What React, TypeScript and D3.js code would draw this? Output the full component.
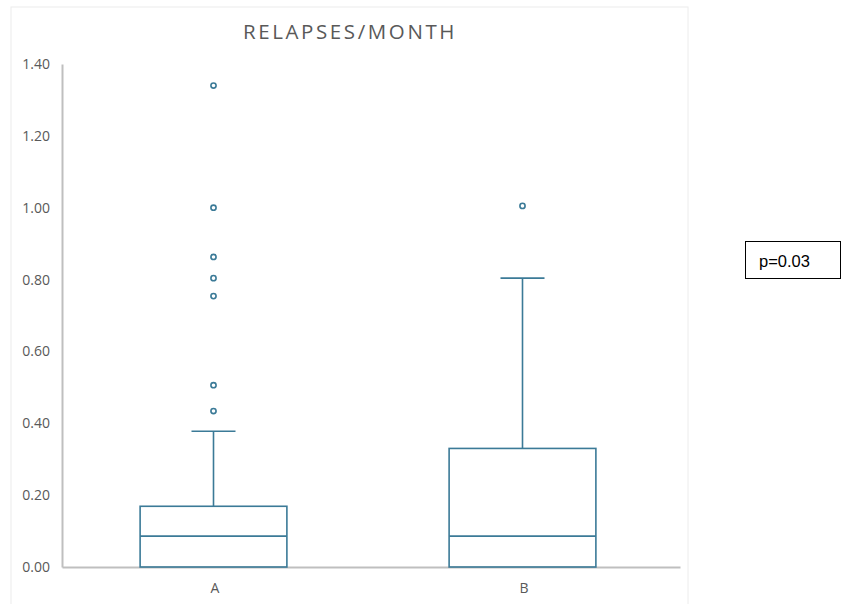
import React, { useEffect, useRef } from 'react'
import * as d3 from 'd3'

// box statistics
const categories = ['A', 'B']
const q1 = [0, 0]
const medians = [0.086, 0.086]
const q3 = [0.169, 0.33]
const whiskerLow = [0, 0]
const whiskerHigh = [0.378, 0.804]
const outliersA = [1.34, 1.0, 0.863, 0.804, 0.754, 0.506, 0.434]
const outliersB = [1.005]
const yTicks = [0, 0.2, 0.4, 0.6, 0.8, 1.0, 1.2, 1.4]

const W = 843
const H = 604
const margin = { top: 64, right: 165, bottom: 37, left: 62 }
const color = '#3b7a97'
const axisGrey = '#bfbfbf'
const textGrey = '#595959'

const App = () => {
  const ref = useRef<SVGSVGElement>(null)

  useEffect(() => {
    const svg = d3.select(ref.current)
    svg.selectAll('*').remove()

    const x = d3.scaleBand()
      .domain(categories)
      .range([margin.left, W - margin.right + 2])
      .padding(0)

    const y = d3.scaleLinear()
      .domain([0, 1.4])
      .range([H - margin.bottom, margin.top])

    // chart frame
    svg.append('rect')
      .attr('x', 11).attr('y', 7)
      .attr('width', 677).attr('height', H)
      .attr('fill', 'white')
      .attr('stroke', '#ececec')

    svg.append('text')
      .attr('x', 350).attr('y', 39)
      .attr('text-anchor', 'middle')
      .attr('font-family', 'Open Sans, sans-serif')
      .attr('font-size', 20.5)
      .attr('letter-spacing', 2.6)
      .attr('fill', textGrey)
      .text('RELAPSES/MONTH')

    // y axis
    const yAxis = svg.append('g')
      .attr('transform', `translate(${margin.left},0)`)
      .call(d3.axisLeft(y).tickValues(yTicks).tickSize(0).tickPadding(12).tickFormat(d3.format('.2f')))
    yAxis.select('.domain').attr('stroke', axisGrey).attr('stroke-width', 2)
    yAxis.selectAll('text')
      .attr('font-family', 'Open Sans, sans-serif')
      .attr('font-size', 14)
      .attr('fill', textGrey)

    // x axis
    const xAxis = svg.append('g')
      .attr('transform', `translate(0,${H - margin.bottom})`)
      .call(d3.axisBottom(x).tickSize(0).tickPadding(16))
    xAxis.select('.domain').attr('stroke', axisGrey).attr('stroke-width', 2)
    xAxis.selectAll('text')
      .attr('font-family', 'Open Sans, sans-serif')
      .attr('font-size', 14)
      .attr('fill', textGrey)
      .attr('dx', -1.5)

    const boxW = x.bandwidth() * 0.475
    const capW = 44
    const outliers = [outliersA, outliersB]

    categories.forEach((c, i) => {
      const cx = (x(c) as number) + x.bandwidth() / 2 - 3
      const g = svg.append('g')
        .attr('fill', 'none')
        .attr('stroke', color)
        .attr('stroke-width', 1.6)

      g.append('rect')
        .attr('x', cx - boxW / 2)
        .attr('y', y(q3[i]))
        .attr('width', boxW)
        .attr('height', y(q1[i]) - y(q3[i]))
      g.append('line')
        .attr('x1', cx - boxW / 2).attr('x2', cx + boxW / 2)
        .attr('y1', y(medians[i])).attr('y2', y(medians[i]))
      g.append('line')
        .attr('x1', cx).attr('x2', cx)
        .attr('y1', y(q3[i])).attr('y2', y(whiskerHigh[i]))
      g.append('line')
        .attr('x1', cx - capW / 2).attr('x2', cx + capW / 2)
        .attr('y1', y(whiskerHigh[i])).attr('y2', y(whiskerHigh[i]))
      if (whiskerLow[i] < q1[i]) {
        g.append('line')
          .attr('x1', cx).attr('x2', cx)
          .attr('y1', y(q1[i])).attr('y2', y(whiskerLow[i]))
      }
      g.selectAll('circle')
        .data(outliers[i])
        .join('circle')
        .attr('cx', cx)
        .attr('cy', d => y(d))
        .attr('r', 2.6)
        .attr('fill', 'white')
    })

    // p-value box
    svg.append('rect')
      .attr('x', 745.5).attr('y', 241.5)
      .attr('width', 95).attr('height', 37)
      .attr('fill', 'white')
      .attr('stroke', 'black')
    svg.append('text')
      .attr('x', 759).attr('y', 267)
      .attr('font-family', 'Liberation Sans, Arial, sans-serif')
      .attr('font-size', 16.5)
      .attr('fill', 'black')
      .text('p=0.03')
  }, [])

  return (
    <svg ref={ref} width={W} height={H} style={{ position: 'absolute', left: 0, top: 0 }} />
  )
}

export default App
